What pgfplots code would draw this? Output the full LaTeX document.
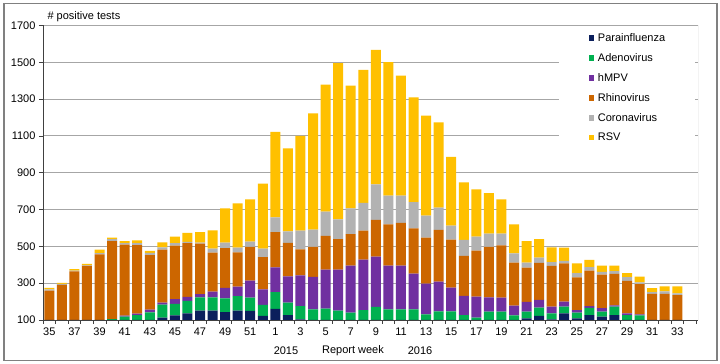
\documentclass[border=0pt]{standalone}
\usepackage{pgfplots}
\pgfplotsset{compat=1.18}
\usepackage{pgfplotstable}
\usepackage{fontspec}
\setmainfont{Liberation Sans}
\definecolor{cP}{HTML}{0B1F5C}
\definecolor{cA}{HTML}{00B050}
\definecolor{cH}{HTML}{7030A0}
\definecolor{cR}{HTML}{CC6600}
\definecolor{cC}{HTML}{B2B2B2}
\definecolor{cS}{HTML}{FFC000}
\pgfplotstableread{
i P A H R C S
0 100 0 0 160 7 7
1 100 0 0 191 5 6
2 100 0 0 264 4 8
3 100 0 0 294 3 8
4 100 0 0 356 7 19
5 100 5 0 424 11 7
6 100 18 6 385 9 11
7 100 27 8 372 10 16
8 100 42 14 297 12 11
9 113 71 11 287 12 28
10 125 62 26 291 13 36
11 136 68 22 291 8 48
12 151 72 18 274 5 58
13 151 72 31 212 22 99
14 143 75 56 216 30 187
15 151 79 51 187 25 241
16 149 72 93 183 29 230
17 122 60 85 175 46 353
18 160 92 134 192 80 464
19 127 67 143 182 63 451
20 103 73 167 141 102 514
21 100 58 176 163 94 631
22 100 62 212 183 132 690
23 100 51 223 166 107 848
24 100 40 255 171 141 667
25 100 54 274 158 150 723
26 100 71 273 200 193 731
27 100 58 237 225 156 725
28 100 58 237 232 149 652
29 100 58 194 246 143 569
30 100 31 167 250 119 544
31 100 47 161 281 122 462
32 100 47 129 261 76 373
33 100 27 104 218 86 313
34 100 13 114 250 76 257
35 100 45 78 274 72 220
36 100 45 76 285 63 187
37 100 25 53 234 50 158
38 109 36 53 186 28 117
39 122 45 42 201 29 101
40 104 32 36 222 21 80
41 136 36 28 208 13 72
42 109 31 13 179 22 54
43 127 39 10 192 19 40
44 118 27 19 183 15 33
45 127 46 7 171 14 30
46 100 27 9 177 20 22
47 100 25 6 164 10 31
48 100 0 0 142 9 22
49 100 0 0 142 13 27
50 100 0 0 135 10 37
}\datatable
\begin{document}
\begin{tikzpicture}[x=1pt,y=1pt]
\useasboundingbox (0,0) rectangle (720,364);
\fill[white] (0,0) rectangle (720,364);
\begin{axis}[
  at={(43pt,44pt)}, anchor=south west,
  scale only axis, width=655pt, height=294.5pt,
  xmin=-0.5, xmax=51.65, ymin=100, ymax=1700,
  ybar stacked, bar width=10pt,
  axis x line*=bottom, axis y line*=left,
  axis line style={draw=black!75, line width=0.8pt, -},
  ytick={100,300,...,1700},
  ymajorgrids, grid style={draw=black!35, line width=0.9pt},
  tick align=outside, major tick length=4pt,
  tick style={draw=black!75, line width=0.6pt},
  xtick={-0.5,0.5,...,51.5}, xticklabels={},
  extra x ticks={0,2,...,50},
  extra x tick labels={35,37,39,41,43,45,47,49,51,1,3,5,7,9,11,13,15,17,19,21,23,25,27,29,31,33},
  extra x tick style={major tick length=0pt, grid=none, xticklabel style={yshift=-4pt}},
  tick label style={font=\fontsize{11}{13}\selectfont},
  /pgf/number format/assume math mode=true,
  /pgf/number format/1000 sep={},
  legend image code/.code={\fill[#1,draw=none] (0pt,-2.6pt) rectangle (5.2pt,2.6pt);},
  legend style={at={(0.996,0.998)}, anchor=north east, draw=none, fill=white,
    inner xsep=30pt, inner ysep=7pt, row sep=10.5pt, column sep=4pt,
    font=\fontsize{11}{13}\selectfont, nodes={inner sep=0pt}},
  legend cell align=left,
]
\addplot[fill=cP, draw=none] table[x=i, y=P] {\datatable};
\addplot[fill=cA, draw=none] table[x=i, y=A] {\datatable};
\addplot[fill=cH, draw=none] table[x=i, y=H] {\datatable};
\addplot[fill=cR, draw=none] table[x=i, y=R] {\datatable};
\addplot[fill=cC, draw=none] table[x=i, y=C] {\datatable};
\addplot[fill=cS, draw=none] table[x=i, y=S] {\datatable};
\legend{Parainfluenza, Adenovirus, hMPV, Rhinovirus, Coronavirus, RSV}
\draw[black!35, line width=0.9pt] (rel axis cs:1,0) -- (rel axis cs:1,1);
\end{axis}
\node[anchor=west, font=\fontsize{11}{13}\selectfont] at (44pt,347pt) {\# positive tests};
\node[font=\fontsize{11}{13}\selectfont] at (286pt,13pt) {2015};
\node[font=\fontsize{11}{13}\selectfont] at (353pt,13pt) {Report week};
\node[font=\fontsize{11}{13}\selectfont] at (420pt,13pt) {2016};
\draw[black!50, line width=1.2pt] (4pt,3.5pt) rectangle (717pt,360.5pt);
\end{tikzpicture}
\end{document}
